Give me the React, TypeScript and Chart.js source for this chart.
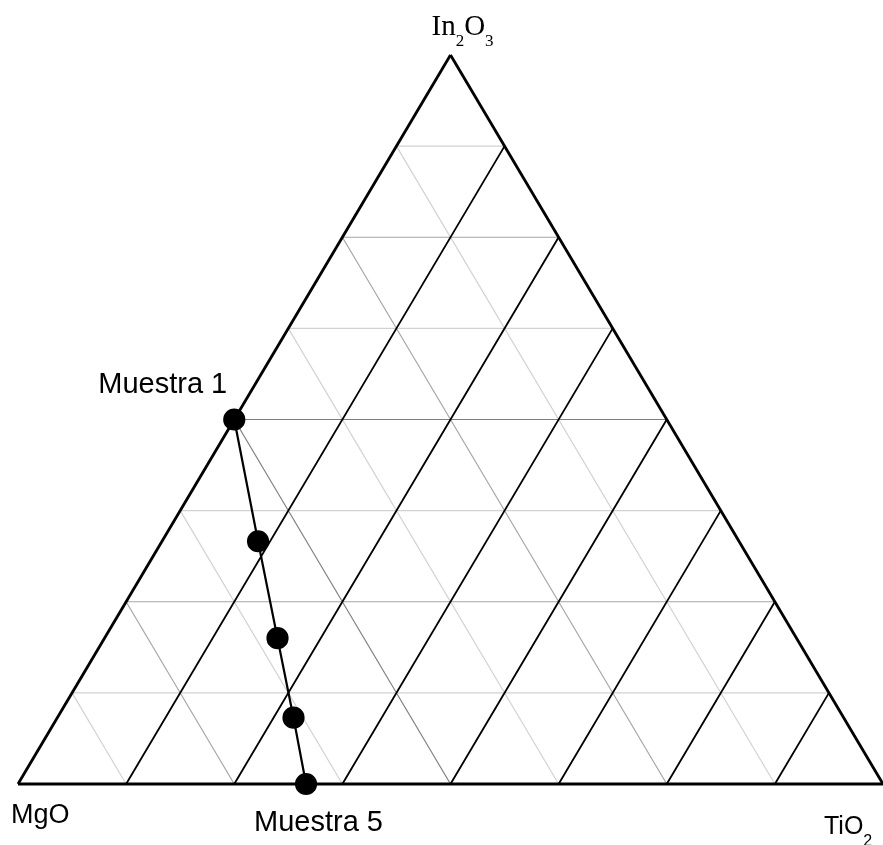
import React, { useEffect, useRef } from "react";
import { Chart, registerables } from "chart.js";

Chart.register(...registerables);

// Components at the triangle vertices
const vertexLabels = ["MgO", "TiO2", "In2O3"];
// Grid divisions (fractions)
const gridTicks = [0.125, 0.25, 0.375, 0.5, 0.625, 0.75, 0.875];
// Samples (mole fractions)
const sampleNames = ["Muestra 1", "Muestra 2", "Muestra 3", "Muestra 4", "Muestra 5"];
const sampleIn2O3 = [0.5, 0.333, 0.2, 0.091, 0.0];
const sampleTiO2 = [0.0, 0.111, 0.2, 0.273, 0.333];
const sampleMgO = [0.5, 0.556, 0.6, 0.636, 0.667];
const labelledSamples = ["Muestra 1", "Muestra 5"];

// ternary -> cartesian (x: 0..1 base, y: In2O3 fraction)
function toXY(mgo: number, tio2: number, in2o3: number) {
  const s = mgo + tio2 + in2o3;
  const a = in2o3 / s;
  const b = tio2 / s;
  return { x: b + a / 2, y: a };
}

function grayFor(i: number) {
  const k = i + 1;
  if (k === 4) return "#808080";
  if (k % 2 === 0) return "#a6a6a6";
  return "#d2d2d2";
}

function seg(p: { x: number; y: number }, q: { x: number; y: number }, color: string, width: number, order: number) {
  return {
    data: [p, q],
    showLine: true,
    borderColor: color,
    borderWidth: width,
    pointRadius: 0,
    pointHoverRadius: 0,
    fill: false,
    clip: false as any,
    order,
  };
}

const labelPlugin = {
  id: "ternaryLabels",
  afterDraw(chart: any) {
    const ctx = chart.ctx as CanvasRenderingContext2D;
    const xs = chart.scales.x;
    const ys = chart.scales.y;
    const px = (p: { x: number; y: number }) => ({ x: xs.getPixelForValue(p.x), y: ys.getPixelForValue(p.y) });
    const top = px(toXY(0, 0, 1));
    const left = px(toXY(1, 0, 0));
    const right = px(toXY(0, 1, 0));
    ctx.save();
    ctx.fillStyle = "#000";
    ctx.textBaseline = "alphabetic";
    ctx.textAlign = "left";

    const drawSub = (parts: [string, boolean][], x0: number, y0: number, family: string, big: number, small: number, drop: number) => {
      let x = x0;
      for (const [t, sub] of parts) {
        ctx.font = `${sub ? small : big}px ${family}`;
        ctx.fillText(t, x, sub ? y0 + drop : y0);
        x += ctx.measureText(t).width;
      }
    };

    // In2O3 (top)
    drawSub([["In", false], ["2", true], ["O", false], ["3", true]], top.x - 19, top.y - 20, '"Liberation Serif", "Times New Roman", serif', 29, 17, 11);
    // MgO (bottom-left)
    ctx.font = '27px "Liberation Sans", Arial, sans-serif';
    ctx.fillText(vertexLabels[0], left.x - 7, left.y + 39);
    // TiO2 (bottom-right)
    drawSub([["TiO", false], ["2", true]], right.x - 59, right.y + 50, '"Liberation Sans", Arial, sans-serif', 25, 16, 12);

    // Sample labels
    ctx.font = '29px "Liberation Sans", Arial, sans-serif';
    const s1 = px(toXY(sampleMgO[0], sampleTiO2[0], sampleIn2O3[0]));
    ctx.fillText(labelledSamples[0], s1.x - 136, s1.y - 27);
    const s5 = px(toXY(sampleMgO[4], sampleTiO2[4], sampleIn2O3[4]));
    ctx.fillText(labelledSamples[1], s5.x - 52, s5.y + 47);
    ctx.restore();
  },
};

export default function App() {
  const ref = useRef<HTMLCanvasElement | null>(null);
  useEffect(() => {
    if (!ref.current) return;
    const datasets: any[] = [];
    gridTicks.forEach((t, i) => {
      // horizontal: In2O3 = t
      datasets.push(seg(toXY(1 - t, 0, t), toXY(0, 1 - t, t), grayFor(i), 1.2, 4));
      // "\" lines: MgO constant = 1 - t
      datasets.push(seg(toXY(1 - t, 0, t), toXY(1 - t, t, 0), grayFor(i), 1.2, 4));
      // "/" lines: TiO2 constant = t
      datasets.push(seg(toXY(1 - t, t, 0), toXY(0, t, 1 - t), "#000", 1.8, 3));
    });
    // triangle edges
    const A = toXY(1, 0, 0);
    const B = toXY(0, 1, 0);
    const C = toXY(0, 0, 1);
    datasets.push(seg(A, B, "#000", 2.8, 2));
    datasets.push(seg(B, C, "#000", 2.8, 2));
    datasets.push(seg(C, A, "#000", 2.8, 2));
    // samples
    datasets.push({
      label: "Muestras",
      data: sampleNames.map((_, i) => toXY(sampleMgO[i], sampleTiO2[i], sampleIn2O3[i])),
      showLine: true,
      borderColor: "#000",
      borderWidth: 2.2,
      backgroundColor: "#000",
      pointBackgroundColor: "#000",
      pointBorderColor: "#000",
      pointRadius: 10,
      pointHoverRadius: 10,
      fill: false,
      clip: false,
      order: 0,
    });

    const chart = new Chart(ref.current, {
      type: "scatter",
      data: { datasets },
      options: {
        animation: false,
        responsive: false,
        devicePixelRatio: 1,
        events: [],
        layout: { autoPadding: false, padding: { left: 18, right: 0, top: 55, bottom: 61 } },
        scales: {
          x: { type: "linear", min: 0, max: 1, display: false },
          y: { type: "linear", min: 0, max: 1, display: false },
        },
        plugins: { legend: { display: false }, tooltip: { enabled: false } },
      } as any,
      plugins: [labelPlugin],
    });
    return () => chart.destroy();
  }, []);

  return (
    <div style={{ position: "fixed", left: 0, top: 0, width: 883, height: 845, background: "#fff" }}>
      <canvas ref={ref} width={883} height={845} style={{ display: "block" }} />
    </div>
  );
}
